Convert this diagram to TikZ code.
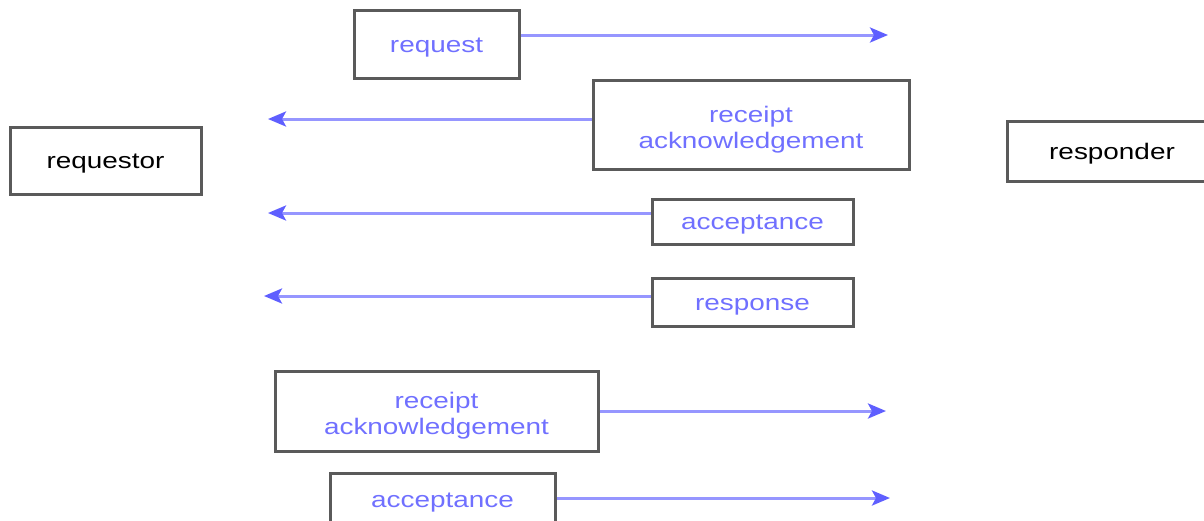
\documentclass[tikz,border=0pt]{standalone}
\usepackage{fontspec}
\setmainfont{Liberation Sans}[FakeStretch=1.24]
\usetikzlibrary{arrows.meta, calc}

\definecolor{msgblue}{RGB}{112,112,255}
\definecolor{linkblue}{RGB}{150,150,255}
\definecolor{tipblue}{RGB}{95,95,255}
\definecolor{boxgray}{RGB}{90,90,90}

\begin{document}
\begin{tikzpicture}[
        x=1pt, y=-1pt,
        party/.style={draw=boxgray, line width=3pt, inner sep=0pt,
            font=\fontsize{22.5}{26}\selectfont, text=black,
            text height=20.6pt, text depth=4.6pt},
        message/.style={party, text=msgblue, align=center},
        twoline/.style={text height=51.6pt, text depth=4.6pt},
        pile/.style={draw=linkblue, line width=3pt,
            -{Stealth[length=18pt, width=15pt, inset=4pt, color=tipblue]}}
    ]
    \useasboundingbox (0,0) rectangle (1204,520);

    % the two parties
    \node[party, minimum width=191pt, minimum height=67pt] (requestor) at (105.5,160.5) {requestor};
    \node[party, minimum width=210pt, minimum height=60pt] (responder) at (1112,151) {responder};

    % messages
    \node[message, minimum width=165pt, minimum height=68pt] (req) at (436.5,44) {request};
    \node[message, twoline, minimum width=316pt, minimum height=89pt] (rack) at (751,124.5) {receipt\\acknowledgement};
    \node[message, minimum width=201pt, minimum height=45pt] (acc) at (752.5,221.5) {acceptance};
    \node[message, minimum width=201pt, minimum height=48pt] (resp) at (752.5,302) {response};
    \node[message, twoline, minimum width=323pt, minimum height=80pt] (rackb) at (436.5,411) {receipt\\acknowledgement};
    \node[message, minimum width=225pt, minimum height=52pt] (accb) at (442.5,499) {acceptance};

    % arrow ends
    \coordinate (t1) at (888,35);
    \coordinate (t2) at (268,119);
    \coordinate (t3) at (268,213);
    \coordinate (t4) at (264,296);
    \coordinate (t5) at (886,411);
    \coordinate (t6) at (890,498);

    \draw[pile] (req.east |- t1) -- (t1);
    \draw[pile] (rack.west |- t2) -- (t2);
    \draw[pile] (acc.west |- t3) -- (t3);
    \draw[pile] (resp.west |- t4) -- (t4);
    \draw[pile] (rackb.east |- t5) -- (t5);
    \draw[pile] (accb.east |- t6) -- (t6);

\end{tikzpicture}
\end{document}
